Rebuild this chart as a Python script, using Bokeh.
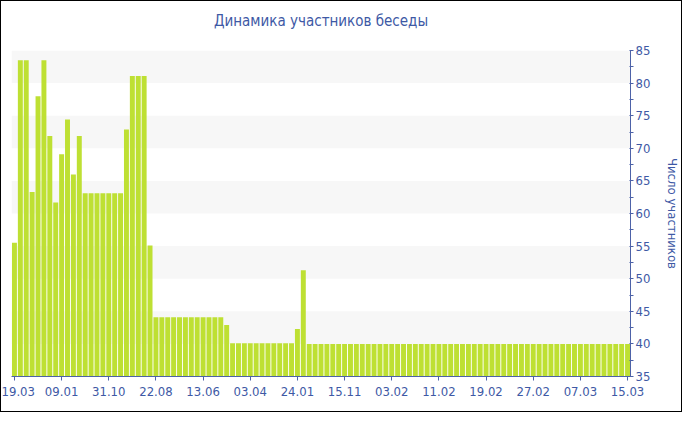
from bokeh.plotting import figure
from bokeh.models import Range1d, FixedTicker, Title
from bokeh.embed import file_html
from bokeh.resources import INLINE

# ---- data ----
tick_labels = ["19.03", "09.01", "31.10", "22.08", "13.06", "03.04", "24.01",
               "15.11", "03.02", "11.02", "19.02", "27.02", "07.03", "15.03"]
label_step = 8

participants = [
    55.5, 83.5, 83.5, 63.3, 78.0, 83.5, 71.9, 61.7, 69.1, 74.4, 66.0, 71.9,
    63.1, 63.1, 63.1, 63.1, 63.1, 63.1, 63.1,
    72.9, 81.1, 81.1, 81.1, 55.1,
    44.1, 44.1, 44.1, 44.1, 44.1, 44.1, 44.1, 44.1, 44.1, 44.1, 44.1, 44.1,
    42.9,
    40.1, 40.1, 40.1, 40.1, 40.1, 40.1, 40.1, 40.1, 40.1, 40.1, 40.1,
    42.3, 51.3,
    40.0, 40.0, 40.0, 40.0, 40.0, 40.0, 40.0, 40.0, 40.0, 40.0, 40.0,
    40.0, 40.0, 40.0, 40.0, 40.0, 40.0, 40.0, 40.0, 40.0, 40.0, 40.0,
    40.0, 40.0, 40.0, 40.0, 40.0, 40.0, 40.0, 40.0, 40.0, 40.0, 40.0,
    40.0, 40.0, 40.0, 40.0, 40.0, 40.0, 40.0, 40.0, 40.0, 40.0, 40.0,
    40.0, 40.0, 40.0, 40.0, 40.0, 40.0, 40.0, 40.0, 40.0, 40.0, 40.0,
]
y_min, y_max = 35, 85

x_idx = list(range(len(participants)))
tick_pos = x_idx[::label_step]

TEXT = "#3e59a5"
AXIS = "#4d62a8"
FONT = "DejaVu Sans Condensed, DejaVu Sans"

p = figure(width=682, height=412, output_backend="svg", toolbar_location=None,
           y_axis_location="right",
           x_range=Range1d(-0.5, len(participants) - 0.5),
           y_range=Range1d(y_min, y_max),
           min_border_left=10, min_border_right=49,
           min_border_top=49, min_border_bottom=37)
p.styles = {"border": "1px solid black"}

p.vbar(x=x_idx, top=participants, bottom=y_min, width=0.84,
       fill_color="#bee033", line_color=None)

p.title.text = "Динамика участников беседы"
p.title.align = "center"
p.title.text_font = FONT
p.title.text_font_size = "15px"
p.title.text_font_style = "normal"
p.title.text_color = TEXT
p.title.standoff = 0

# empty spacer panel between the title and the plot frame
p.add_layout(Title(text=" ", text_font_size="1px", standoff=18), "above")

p.outline_line_color = None
p.background_fill_color = "white"
p.border_fill_color = "white"

p.xgrid.grid_line_color = None
p.ygrid.grid_line_color = None
p.ygrid.band_fill_color = "#f7f7f7"
p.ygrid.band_fill_alpha = 1.0

xa = p.xaxis[0]
xa.ticker = FixedTicker(ticks=tick_pos)
xa.major_label_overrides = {pos: lab for pos, lab in zip(tick_pos, tick_labels)}
xa.axis_line_color = AXIS
xa.major_tick_line_color = AXIS
xa.major_tick_in = 0
xa.major_tick_out = 4
xa.minor_tick_line_color = None
xa.major_label_text_font = FONT
xa.major_label_text_font_size = "13px"
xa.major_label_text_color = TEXT
xa.major_label_standoff = 6

ya = p.yaxis[0]
ya.ticker = FixedTicker(ticks=list(range(y_min, y_max + 1, 5)),
                        minor_ticks=[v + 2.5 for v in range(y_min, y_max, 5)])
ya.axis_line_color = AXIS
ya.major_tick_line_color = AXIS
ya.minor_tick_line_color = AXIS
ya.major_tick_in = 1
ya.major_tick_out = 3
ya.minor_tick_in = 1
ya.minor_tick_out = 3
ya.major_label_text_font = FONT
ya.major_label_text_font_size = "13px"
ya.major_label_text_color = TEXT
ya.major_label_standoff = 2
ya.axis_label = "Число участников"
ya.axis_label_text_font = FONT
ya.axis_label_text_font_size = "13px"
ya.axis_label_text_font_style = "normal"
ya.axis_label_text_color = TEXT
ya.axis_label_standoff = 12

open("out.html", "w").write(file_html(p, INLINE))
